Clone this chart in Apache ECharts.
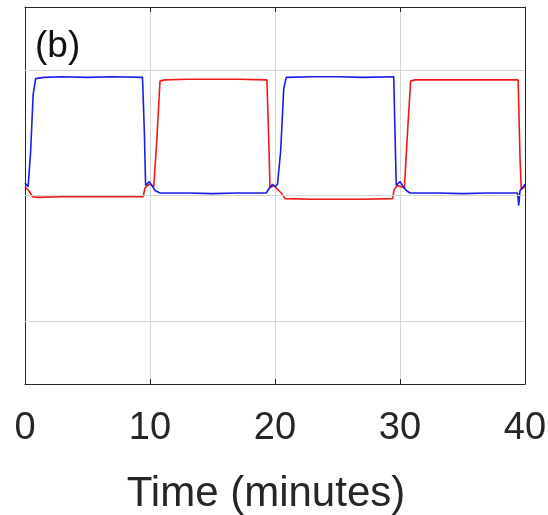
<!DOCTYPE html>
<html>
<head>
<meta charset="utf-8">
<script src="https://cdn.jsdelivr.net/npm/echarts@6/dist/echarts.min.js"></script>
<style>
  html, body { margin: 0; padding: 0; background: #fff; }
  #chart { width: 548px; height: 515px; }
</style>
</head>
<body>
<div id="chart"></div>
<script>
// ticks on the time axis (minutes)
const xTicks = [0, 10, 20, 30, 40];
const yGridValues = [-1, 0, 1];

// blue trace
const blueTime = [0, 0.25, 0.45, 0.65, 0.85, 1.5, 3, 5, 7, 9.4, 9.55, 9.65, 9.8, 9.95, 10.15, 10.4, 10.8,
  13, 15, 17, 19.3, 19.55, 19.8, 20.0, 20.2, 20.45, 20.7, 20.9, 23, 25, 27, 29.5, 29.6, 29.7, 29.85,
  30.0, 30.2, 30.5, 30.8, 33, 35, 37, 39.4, 39.5, 39.6, 39.8, 40];
const blueValue = [0.10, 0.07, 0.35, 0.80, 0.93, 0.94, 0.945, 0.94, 0.945, 0.94, 0.50, 0.08, 0.09, 0.11, 0.08, 0.04, 0.02,
  0.02, 0.015, 0.02, 0.02, 0.06, 0.09, 0.07, 0.09, 0.35, 0.85, 0.94, 0.945, 0.945, 0.94, 0.945, 0.50, 0.08, 0.08,
  0.11, 0.08, 0.04, 0.02, 0.02, 0.015, 0.02, 0.02, -0.08, 0.04, 0.06, 0.09];

// red trace
const redTime = [0, 0.3, 0.6, 1, 3, 5, 7, 9.45, 9.6, 9.8, 10.0, 10.3, 10.55, 10.8, 11.2, 13, 15, 17, 19.35,
  19.5, 19.6, 19.9, 20.2, 20.5, 20.8, 23, 25, 27, 29.4, 29.55, 29.8, 30.1, 30.35, 30.6, 30.85, 31.2,
  33, 35, 37, 39.45, 39.6, 39.7, 40];
const redValue = [0.07, 0.04, -0.01, -0.015, -0.01, -0.01, -0.01, -0.01, 0.06, 0.08, 0.09, 0.07, 0.45, 0.91, 0.92, 0.925, 0.925, 0.925, 0.92,
  0.45, 0.06, 0.08, 0.05, 0.02, -0.025, -0.03, -0.03, -0.03, -0.025, 0.05, 0.08, 0.07, 0.06, 0.50, 0.91, 0.92,
  0.92, 0.92, 0.92, 0.92, 0.30, 0.05, 0.07];

const zip = (a, b) => a.map((t, i) => [t, b[i]]);

const ink = '#262626';
const font = 'Liberation Sans, Arial, Helvetica, sans-serif';

const boxAxis = {
  axisLine: { show: true, onZero: false, lineStyle: { color: ink, width: 1 } },
  axisTick: { show: true, inside: true, length: 5, lineStyle: { color: ink } }
};

var chart = echarts.init(document.getElementById('chart'));
var option = {
  animation: false,
  backgroundColor: '#fff',
  title: {
    text: '(b)',
    left: 30,
    top: 23,
    textStyle: { fontFamily: font, fontSize: 37, fontWeight: 'normal', color: '#111' }
  },
  grid: { left: 25, right: 23, top: 7, bottom: 131, containLabel: false, outerBoundsMode: 'none' },
  xAxis: [{
    type: 'value', min: 0, max: 40, interval: 10, position: 'bottom',
    axisLine: boxAxis.axisLine, axisTick: boxAxis.axisTick,
    axisLabel: { fontFamily: font, fontSize: 38, color: ink, margin: 26,
      customValues: xTicks },
    splitLine: { show: true, lineStyle: { color: '#d6d6d6', width: 1 } },
    name: 'Time (minutes)', nameLocation: 'middle', nameGap: 89,
    nameTextStyle: { fontFamily: font, fontSize: 42, color: ink, padding: [0, 18, 0, 0] }
  }, {
    type: 'value', min: 0, max: 40, interval: 10, position: 'top',
    axisLine: boxAxis.axisLine, axisTick: boxAxis.axisTick,
    axisLabel: { show: false }, splitLine: { show: false }
  }],
  yAxis: [{
    type: 'value', min: -1.5, max: 1.5, interval: 0.5, position: 'left',
    axisLine: boxAxis.axisLine,
    axisTick: Object.assign({}, boxAxis.axisTick, { customValues: yGridValues }),
    axisLabel: { show: false }, splitLine: { show: false }
  }, {
    type: 'value', min: -1.5, max: 1.5, interval: 0.5, position: 'right',
    axisLine: boxAxis.axisLine,
    axisTick: Object.assign({}, boxAxis.axisTick, { customValues: yGridValues }),
    axisLabel: { show: false }, splitLine: { show: false }
  }],
  series: [{
    name: 'grid',
    type: 'line',
    data: [],
    z: 1,
    markLine: {
      silent: true,
      symbol: 'none',
      label: { show: false },
      lineStyle: { color: '#d6d6d6', type: 'solid', width: 1 },
      data: yGridValues.map(v => ({ yAxis: v }))
    }
  }, {
    name: 'red',
    type: 'line',
    data: zip(redTime, redValue),
    showSymbol: false,
    z: 2,
    lineStyle: { color: '#f01818', width: 1.6 }
  }, {
    name: 'blue',
    type: 'line',
    data: zip(blueTime, blueValue),
    showSymbol: false,
    z: 3,
    lineStyle: { color: '#1c1ce6', width: 1.6 }
  }]
};
if (option && typeof option === "object") {
  chart.setOption(option, true);
}
</script>
</body>
</html>
